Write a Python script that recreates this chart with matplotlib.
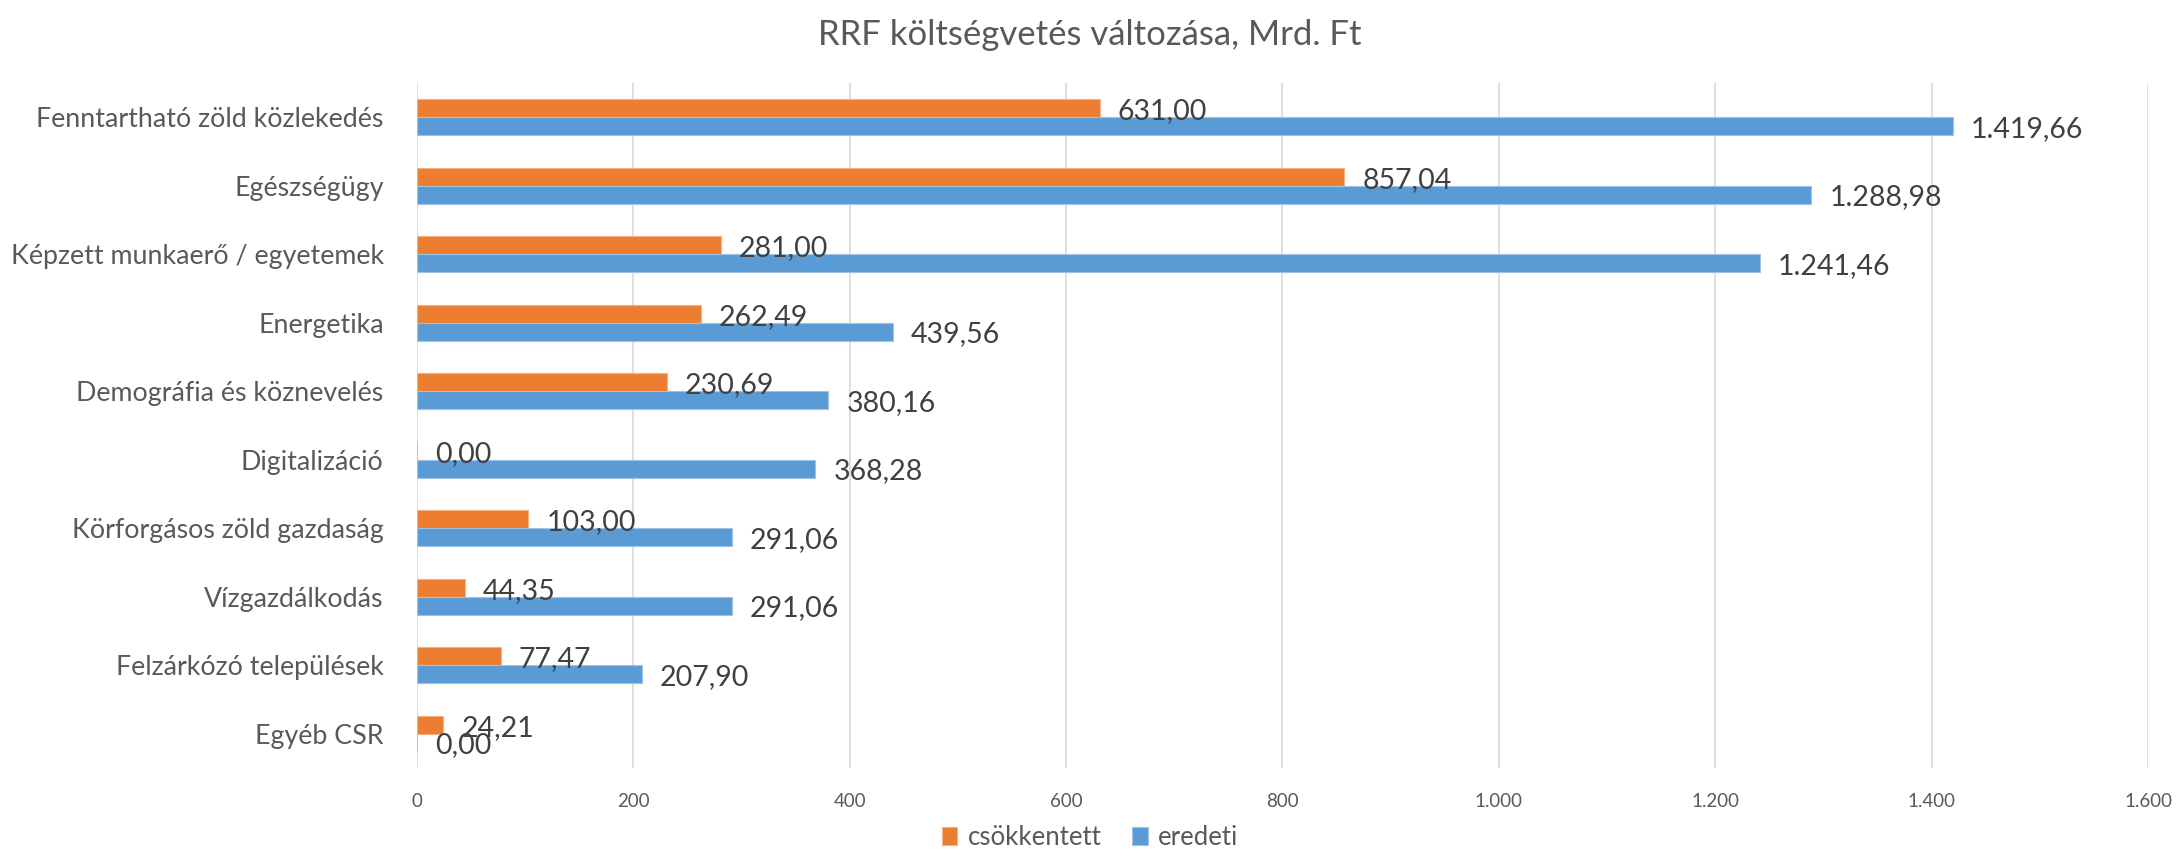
import matplotlib
matplotlib.use('Agg')
import matplotlib.pyplot as plt
import numpy as np

plt.rcParams['font.family'] = ['Lato', 'DejaVu Sans']

categories = ['Fenntartható zöld közlekedés', 'Egészségügy', 'Képzett munkaerő / egyetemek',
              'Energetika', 'Demográfia és köznevelés', 'Digitalizáció',
              'Körforgásos zöld gazdaság', 'Vízgazdálkodás', 'Felzárkózó települések', 'Egyéb CSR']
csokkentett = [631.00, 857.04, 281.00, 262.49, 230.69, 0.00, 103.00, 44.35, 77.47, 24.21]
eredeti = [1419.66, 1288.98, 1241.46, 439.56, 380.16, 368.28, 291.06, 291.06, 207.90, 0.00]
xticks = [0, 200, 400, 600, 800, 1000, 1200, 1400, 1600]

orange = '#ED7D31'
blue = '#5B9BD5'
text_col = '#595959'
label_col = '#404040'


def hu(v, dec=2):
    s = f'{v:,.{dec}f}'
    return s.replace(',', 'X').replace('.', ',').replace('X', '.')


fig = plt.figure(figsize=(21.8, 8.68), dpi=100)
ax = fig.add_axes([0.1913, 0.1152, 0.794, 0.7892])

y = np.arange(len(categories))
h = 0.26
b1 = ax.barh(y - h / 2, csokkentett, height=h, color=orange, edgecolor='#F4B183', linewidth=0.8,
             label='csökkentett', zorder=3)
b2 = ax.barh(y + h / 2, eredeti, height=h, color=blue, edgecolor='#9DC3E6', linewidth=0.8,
             label='eredeti', zorder=3)

for bars, vals in ((b1, csokkentett), (b2, eredeti)):
    for r, v in zip(bars, vals):
        ax.annotate(hu(v), (v, r.get_y() + r.get_height() / 2 + 0.04), xytext=(13, 0),
                    textcoords='offset points', va='center', ha='left', fontsize=20.5,
                    color=label_col, zorder=4)

ax.set_ylim(-0.5, len(categories) - 0.5)
ax.invert_yaxis()
ax.set_xlim(0, 1600)
ax.set_xticks(xticks)
ax.set_xticklabels([hu(t, 0) for t in xticks], fontsize=13.5, color=text_col)
ax.tick_params(axis='both', length=0)
ax.set_yticks(y)
ax.set_yticklabels(categories, fontsize=19.3, color=text_col)
ax.tick_params(axis='y', pad=24)
ax.tick_params(axis='x', pad=18)
ax.grid(axis='x', color='#D9D9D9', linewidth=1.2, zorder=0)
for s in ax.spines.values():
    s.set_visible(False)

fig.suptitle('RRF költségvetés változása, Mrd. Ft', fontsize=25, color=text_col, y=0.978)
fig.legend(handles=[b1, b2], loc='center', bbox_to_anchor=(0.5, 0.035), ncol=2, frameon=False,
           fontsize=18.5, labelcolor=text_col, handlelength=0.6, handleheight=0.7,
           handletextpad=0.4, columnspacing=1.2)

fig.savefig('out.png', dpi=100, facecolor='white')
